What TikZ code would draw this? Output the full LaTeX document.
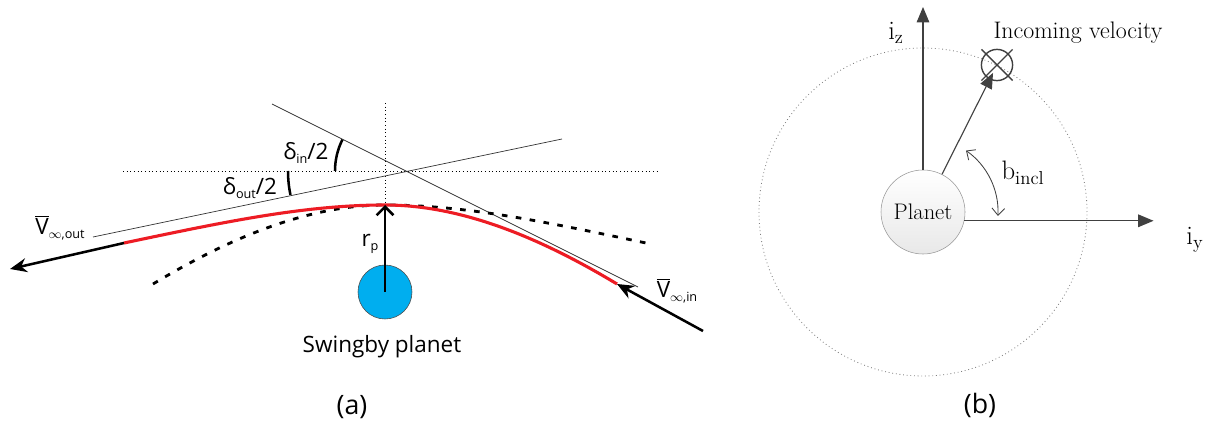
\documentclass[tikz,border=0pt]{standalone}
\usepackage{fontspec}
\newfontfamily\sansfig{Open Sans}
\usetikzlibrary{arrows.meta}
\definecolor{orbitred}{RGB}{237,28,36}
\definecolor{planetblue}{RGB}{0,174,239}
\definecolor{axisgray}{RGB}{64,64,64}
\newcommand{\lsub}[1]{\raisebox{-0.35ex}{\fontsize{9}{10}\selectfont #1}}
\begin{document}
\begin{tikzpicture}[
  lab/.style={font=\sansfig\fontsize{16}{19}\selectfont},
  rlab/.style={font=\fontsize{17}{20}\selectfont},
  caption/.style={font=\sansfig\fontsize{19}{22}\selectfont},
  asym/.style={line width=0.5pt, black!80},
  guide/.style={dotted, line width=0.6pt},
  vinf/.style={line width=1.8pt, -{Stealth[length=12pt,width=10pt]}},
  angarc/.style={line width=1.8pt},
  axis/.style={axisgray, line width=0.8pt, -{Triangle[length=11pt,width=9pt]}}]
  \useasboundingbox (0,0) rectangle (30.3,10.65);
  % (a) swingby geometry
  \coordinate (A) at (3.1,4.575);
  \coordinate (P) at (9.625,5.525);
  \coordinate (B) at (15.425,3.55);
  \coordinate (X) at (10.125,6.375);
  \coordinate (vout) at (0.25,3.925);
  \coordinate (vin) at (17.575,2.375);
  \draw[guide] (3.075,6.375) -- (16.425,6.375);
  \draw[guide] (9.625,8.075) -- (P);
  \draw[asym] (6.8,8.05) -- (15.95,3.475);
  \draw[asym] (2.325,4.725) -- (14.05,7.175);
  \draw[angarc] ([shift={(180:1.75)}]X) arc[start angle=180, end angle=153.4, radius=1.75];
  \draw[angarc] ([shift={(180:2.925)}]X) arc[start angle=180, end angle=191.8, radius=2.925];
  \draw[line width=2pt, dash pattern=on 4pt off 6pt] (3.825,3.55) .. controls (5.65,4.65) and (7.65,5.525) .. (P)
    .. controls (11.65,5.525) and (13.65,5.1) .. (16.15,4.575);
  \draw[line width=2.2pt, orbitred] (A) .. controls (5.6,5.1) and (7.6,5.525) .. (P)
    .. controls (11.6,5.525) and (13.6,4.65) .. (B);
  \draw[vinf] (A) -- (vout);
  \draw[vinf] (vin) -- (B);
  \node[circle, draw=black!70, fill=planetblue, minimum size=1.35cm, inner sep=0] (sp) at (9.625,3.35) {};
  \draw[line width=1.8pt, -{Straight Barb[length=6pt,width=12pt]}] (sp.center) -- (P);
  \node[lab] (rp) at (9.25,4.55) {r\lsub{p}};
  \node[lab] (din) at (7.65,6.825) {δ\lsub{in}/2};
  \node[lab] (dout) at (6.25,5.95) {δ\lsub{out}/2};
  \node[lab] (vo) at (1.5,4.95) {\(\overline{\hbox{V}}\)\lsub{\(\infty\),out}};
  \node[lab] (vi) at (16.925,3.375) {\(\overline{\hbox{V}}\)\lsub{\(\infty\),in}};
  \node[lab] (sw) at (9.55,1.975) {Swingby planet};
  \node[caption] (ca) at (8.8,0.475) {(a)};
  % (b) incoming velocity plane
  \draw[gray, dotted, line width=0.6pt] (23.075,5.35) circle [radius=4.1];
  \node[circle, draw=gray!80, top color=white, bottom color=gray!18, minimum size=2.1cm, inner sep=0, font=\fontsize{16}{19}\selectfont] (pl) at (23.075,5.35) {Planet};
  \coordinate (iztip) at (23.075,10.475);
  \path (pl.-12) ++(4.73,0) coordinate (iytip);
  \draw[axis] (pl.north) -- (iztip);
  \draw[axis] (pl.-12) -- (iytip);
  \node[circle, draw=axisgray, line width=1pt, minimum size=0.78cm, inner sep=0] (iv) at (24.925,9.025) {};
  \draw[axisgray, line width=1pt] ([shift={(135:0.55)}]iv.center) -- ([shift={(-45:0.55)}]iv.center);
  \draw[axisgray, line width=1pt] ([shift={(45:0.55)}]iv.center) -- ([shift={(-135:0.55)}]iv.center);
  \draw[axis, shorten >=0.22cm] (pl) -- (iv.center);
  \draw[axisgray, line width=0.6pt, {Straight Barb[length=5pt,width=9pt]}-{Straight Barb[length=5pt,width=9pt]}]
    ([shift={(55:1.875)}]pl.center) arc[start angle=55, end angle=-3, radius=1.875];
  \node[rlab, font=\fontsize{19}{22}\selectfont] (iz) at (22.4,9.825) {$\mathrm{i_z}$};
  \node[rlab, font=\fontsize{19}{22}\selectfont] (iy) at (29.875,4.65) {$\mathrm{i_y}$};
  \node[rlab] (inc) at (26.95,9.825) {Incoming velocity};
  \node[rlab, font=\fontsize{19}{22}\selectfont] (bi) at (25.575,6.325) {$\mathrm{b_{incl}}$};
  \node[caption] (cb) at (24.5,0.525) {(b)};
\end{tikzpicture}
\end{document}
